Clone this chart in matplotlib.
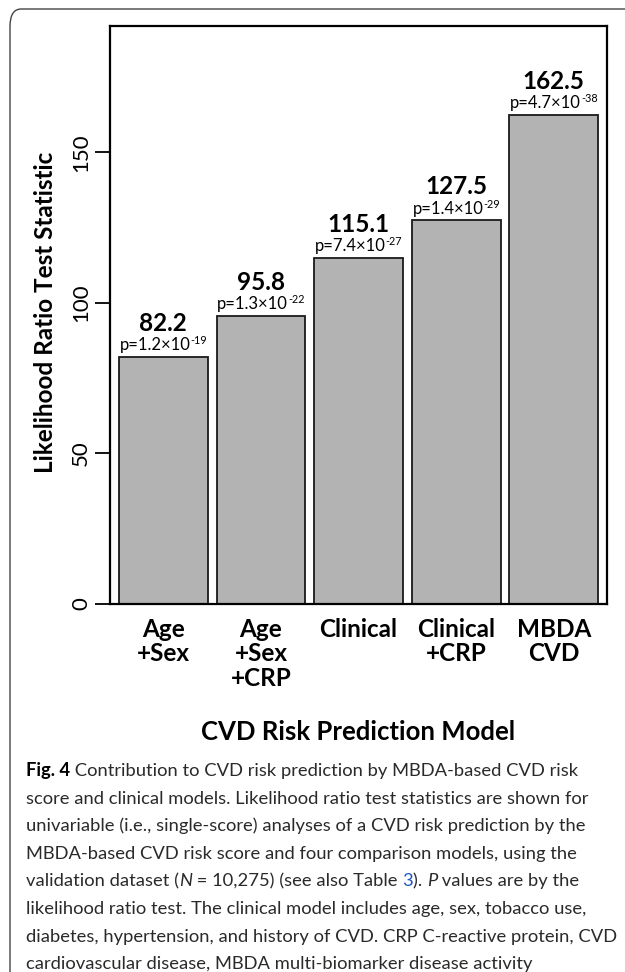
import matplotlib
matplotlib.use("Agg")
import matplotlib.pyplot as plt
from matplotlib.patches import FancyBboxPatch
from matplotlib.transforms import offset_copy

# ---- data ----
models = ["Age\n+Sex", "Age\n+Sex\n+CRP", "Clinical", "Clinical\n+CRP", "MBDA\nCVD"]
lr_stat = [82.2, 95.8, 115.1, 127.5, 162.5]
p_mantissa = ["1.2", "1.3", "7.4", "1.4", "4.7"]
p_exponent = ["-19", "-22", "-27", "-29", "-38"]
y_ticks = [0, 50, 100, 150]

caption_lines = [
    [("Fig. 4", "bold"), (" Contribution to CVD risk prediction by MBDA-based CVD risk", "normal")],
    [("score and clinical models. Likelihood ratio test statistics are shown for", "normal")],
    [("univariable (i.e., single-score) analyses of a CVD risk prediction by the", "normal")],
    [("MBDA-based CVD risk score and four comparison models, using the", "normal")],
    [("validation dataset (", "normal"), ("N", "italic"), (" = 10,275) (see also Table ", "normal"),
     ("3", "link"), ("). ", "normal"), ("P", "italic"), (" values are by the", "normal")],
    [("likelihood ratio test. The clinical model includes age, sex, tobacco use,", "normal")],
    [("diabetes, hypertension, and history of CVD. CRP C-reactive protein, CVD", "normal")],
    [("cardiovascular disease, MBDA multi-biomarker disease activity", "normal")],
]

W, H = 625, 972
FONT = "Lato"

fig = plt.figure(figsize=(W / 100, H / 100), dpi=100)


def fx(px):
    return px / W


def fy(py):
    return 1 - py / H


# outer rounded frame
frame = FancyBboxPatch((fx(10), fy(990)), fx(650) - fx(10), fy(9) - fy(990),
                       boxstyle="round,pad=0,rounding_size=0.018",
                       transform=fig.transFigure, facecolor="none",
                       edgecolor="#444444", linewidth=1.0, zorder=0)
fig.patches.append(frame)

ax = fig.add_axes([fx(110), fy(604), fx(607) - fx(110), fy(26) - fy(604)])

centers = [0.6 + 1.1 * i for i in range(len(models))]
ax.bar(centers, lr_stat, width=1.0, color="#b3b3b3", edgecolor="#1a1a1a",
       linewidth=1.3, zorder=2)
ax.set_xlim(0, 5.6)
ax.set_ylim(0, 192)

for s in ax.spines.values():
    s.set_linewidth(1.6)
    s.set_color("black")

ax.set_yticks(y_ticks)
ax.set_yticklabels([str(t) for t in y_ticks], fontfamily=FONT, fontsize=16,
                   rotation=90, va="center")
ax.tick_params(axis="y", length=11, width=1.3, pad=2.5, direction="out")
ax.set_xticks(centers)
ax.set_xticklabels(models, fontfamily=FONT, fontweight="bold", fontsize=17.5,
                   linespacing=1.07, va="top")
ax.tick_params(axis="x", length=0, pad=10)

# value and p-value labels
renderer = fig.canvas.get_renderer()
for x, v, m, e in zip(centers, lr_stat, p_mantissa, p_exponent):
    ax.text(x, v + 8.6, f"{v:.1f}", ha="center", va="baseline",
            fontfamily=FONT, fontweight="bold", fontsize=17.5, zorder=3)
    base = ax.text(x, v + 2.2, f"p={m}\u00d710", ha="left", va="baseline",
                   fontfamily=FONT, fontsize=12, zorder=3)
    sup = ax.text(x, v + 2.2, e, ha="left", va="baseline",
                  fontfamily=FONT, fontsize=7.8, zorder=3)
    w1 = base.get_window_extent(renderer).width
    w2 = sup.get_window_extent(renderer).width
    left = -(w1 + w2) / 2
    base.set_transform(offset_copy(ax.transData, fig, x=left, y=0, units="dots"))
    sup.set_transform(offset_copy(ax.transData, fig, x=left + w1, y=6, units="dots"))

fig.text(fx(46), fy(312), "Likelihood Ratio Test Statistic", rotation=90,
         ha="center", va="center", fontfamily=FONT, fontweight="bold",
         fontsize=17.5)
fig.text(fx(358), fy(740), "CVD Risk Prediction Model", ha="center",
         va="baseline", fontfamily=FONT, fontweight="bold", fontsize=18.5)

# caption, drawn piece by piece so mixed styles flow on one line
cap_size = 13.2
y0 = 776
line_gap = 27.6
for i, pieces in enumerate(caption_lines):
    xpos = 26
    ypos = y0 + i * line_gap
    for txt, style in pieces:
        kw = dict(fontfamily=FONT, fontsize=cap_size, color="#2a2a2a",
                  ha="left", va="baseline", fontweight="normal")
        if style == "bold":
            kw["fontweight"] = "bold"
            kw["color"] = "black"
        elif style == "italic":
            kw["fontstyle"] = "italic"
        elif style == "link":
            kw["color"] = "#1a55c4"
        t = fig.text(fx(xpos), fy(ypos), txt, **kw)
        xpos += t.get_window_extent(renderer).width

fig.savefig("out.png", dpi=100)
